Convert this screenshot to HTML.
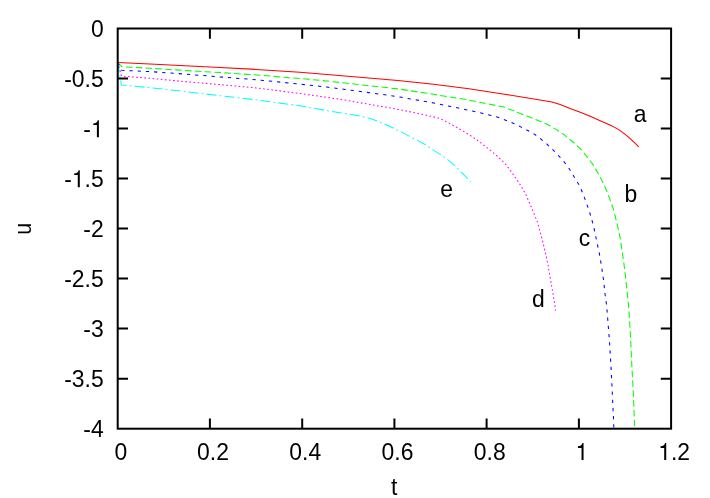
<!DOCTYPE html>
<html><head><meta charset="utf-8"><title>plot</title>
<style>
html,body{margin:0;padding:0;background:#fff;}
body{width:710px;height:498px;overflow:hidden;font-family:"Liberation Sans",sans-serif;}
svg{display:block;will-change:transform;}
text{font-family:"Liberation Sans",sans-serif;font-size:24px;fill:#000;}
</style></head><body>
<svg width="710" height="498" viewBox="0 0 710 498">
<rect x="0" y="0" width="710" height="498" fill="#fff"/>

<g fill="none" stroke-width="1.05" stroke-linejoin="round">
<polyline points="117.80,62.50 150.00,64.05 185.00,65.70 220.00,67.50 256.00,69.40 300.00,72.20 327.00,74.50 345.00,76.00 398.00,80.50 433.50,84.25 469.00,88.70 504.50,94.25 540.00,99.90 552.00,102.00 560.10,104.60 570.10,108.40 580.20,112.20 590.20,116.30 600.20,120.70 611.00,125.55 615.10,127.60 620.15,130.60 625.15,134.30 630.20,138.60 635.20,143.35 638.70,146.95" stroke="#ff0000"/>
<polyline points="117.80,62.50 121.70,66.70 150.00,68.30 185.00,70.50 220.00,72.60 256.00,74.90 306.00,79.05 327.00,81.05 345.00,83.05 398.00,88.90 433.50,94.30 466.00,99.60 504.00,107.10 540.00,121.20 547.00,124.30 555.60,129.10 564.10,134.65 568.65,138.50 573.70,142.50 581.20,149.55 587.20,157.10 593.25,164.90 598.30,173.65 602.80,182.20 605.30,187.70 608.35,195.00 613.40,209.05 617.40,225.10 620.40,239.20 622.40,253.20 624.40,267.30 626.00,281.30 627.40,294.40 628.80,308.10 629.80,324.10 630.80,342.20 631.50,358.30 632.30,374.30 633.05,388.40 633.40,395.00 634.05,412.10 634.50,426.00" stroke="#00ff00" stroke-dasharray="6.580 3.290"/>
<polyline points="117.80,62.50 121.70,70.30 150.00,71.60 185.00,74.10 220.00,76.90 256.00,79.70 303.00,84.40 327.00,87.10 345.00,89.40 393.00,95.90 400.00,97.10 433.50,102.90 465.80,109.65 473.50,111.30 482.00,113.30 490.10,115.30 498.10,117.30 505.60,120.15 513.20,123.20 520.70,126.90 528.20,130.70 534.80,134.40 541.00,139.20 547.00,144.20 553.25,150.20 558.00,155.05 563.50,161.10 568.55,167.60 572.90,174.65 576.90,181.70 579.10,184.70 583.85,196.00 589.30,211.05 593.30,225.10 596.30,239.20 599.30,253.20 601.70,267.30 603.70,281.30 605.10,294.40 606.70,306.10 607.95,322.10 609.40,340.20 610.40,356.30 611.40,374.30 612.00,386.40 612.65,401.10 613.45,417.15 613.80,427.50" stroke="#0000ff" stroke-dasharray="3.290 4.935"/>
<polyline points="117.80,62.50 121.50,76.10 150.00,78.30 185.00,81.60 220.00,84.60 256.00,87.90 300.70,93.60 327.00,97.40 345.00,100.10 373.10,105.00 399.20,109.50 426.50,115.20 438.20,118.00 442.10,119.50 445.80,121.35 449.60,123.40 456.60,127.30 463.65,131.40 470.70,135.80 477.50,140.30 484.00,145.35 490.50,150.30 496.70,155.70 502.75,161.25 505.60,164.30 508.10,167.60 510.60,170.90 513.10,174.30 515.40,177.60 517.70,180.90 519.90,184.30 522.10,187.90 524.10,191.50 526.10,195.00 532.05,209.05 537.10,221.10 541.10,235.15 545.10,251.20 548.10,265.30 550.50,279.30 552.70,292.00 554.10,300.00 555.50,310.60" stroke="#ff00ff" stroke-dasharray="1.645 2.468"/>
<polyline points="117.80,62.50 121.40,85.10 150.00,87.60 185.00,91.60 220.00,95.70 256.00,99.80 303.00,106.20 327.00,110.70 345.00,113.40 355.00,115.05 363.80,117.05 368.60,118.05 376.60,120.75 385.10,124.30 393.20,128.10 401.70,132.10 409.70,136.40 417.80,140.60 425.00,144.50 433.05,149.85 440.60,154.60 447.60,159.60 455.10,165.60 461.20,172.10 467.70,178.70 470.50,181.90" stroke="#00ffff" stroke-dasharray="9.870 3.290 1.645 3.290"/>
</g>
<g fill="none" stroke="#000" stroke-width="2.0">
<rect x="117.7" y="28.5" width="553.4" height="400.2"/>
<path d="M209.9,428.7v-10.3M209.9,28.5v10.3M302.2,428.7v-10.3M302.2,28.5v10.3M394.4,428.7v-10.3M394.4,28.5v10.3M486.6,428.7v-10.3M486.6,28.5v10.3M578.9,428.7v-10.3M578.9,28.5v10.3M117.7,78.5h10.3M671.1,78.5h-10.3M117.7,128.6h10.3M671.1,128.6h-10.3M117.7,178.6h10.3M671.1,178.6h-10.3M117.7,228.6h10.3M671.1,228.6h-10.3M117.7,278.6h10.3M671.1,278.6h-10.3M117.7,328.6h10.3M671.1,328.6h-10.3M117.7,378.7h10.3M671.1,378.7h-10.3"/>
</g>
<text transform="translate(103.70,37.10) scale(0.955,1)" text-anchor="end">0</text>
<text transform="translate(103.70,87.12) scale(0.955,1)" text-anchor="end">-0.5</text>
<g transform="translate(103.70,137.15) scale(0.955,1)"><text x="-21.34" y="0">-</text><path transform="translate(-13.34,0) scale(0.024,-0.024)" d="M259,0V505H102V568C199,575 271,612 299,709H347V0Z" fill="#000"/></g>
<g transform="translate(103.70,187.17) scale(0.955,1)"><text x="-41.35" y="0">-</text><path transform="translate(-33.36,0) scale(0.024,-0.024)" d="M259,0V505H102V568C199,575 271,612 299,709H347V0Z" fill="#000"/><text x="-20.02" y="0">.5</text></g>
<text transform="translate(103.70,237.20) scale(0.955,1)" text-anchor="end">-2</text>
<text transform="translate(103.70,287.23) scale(0.955,1)" text-anchor="end">-2.5</text>
<text transform="translate(103.70,337.25) scale(0.955,1)" text-anchor="end">-3</text>
<text transform="translate(103.70,387.28) scale(0.955,1)" text-anchor="end">-3.5</text>
<text transform="translate(103.70,437.30) scale(0.955,1)" text-anchor="end">-4</text>
<text transform="translate(120.80,460.00) scale(0.955,1)" text-anchor="middle">0</text>
<text transform="translate(213.03,460.00) scale(0.955,1)" text-anchor="middle">0.2</text>
<text transform="translate(305.27,460.00) scale(0.955,1)" text-anchor="middle">0.4</text>
<text transform="translate(397.50,460.00) scale(0.955,1)" text-anchor="middle">0.6</text>
<text transform="translate(489.73,460.00) scale(0.955,1)" text-anchor="middle">0.8</text>
<g transform="translate(581.97,460.00) scale(0.955,1)"><path transform="translate(-6.67,0) scale(0.024,-0.024)" d="M259,0V505H102V568C199,575 271,612 299,709H347V0Z" fill="#000"/></g>
<g transform="translate(674.20,460.00) scale(0.955,1)"><path transform="translate(-16.68,0) scale(0.024,-0.024)" d="M259,0V505H102V568C199,575 271,612 299,709H347V0Z" fill="#000"/><text x="-3.34" y="0">.2</text></g>
<text transform="translate(394.20,495.00) scale(0.955,1)" text-anchor="middle">t</text>
<text transform="translate(31.00,228.70) rotate(-90) scale(0.9,1)" text-anchor="middle">u</text>
<text transform="translate(633.80,121.60) scale(0.955,1)">a</text>
<text transform="translate(624.50,201.70) scale(0.955,1)">b</text>
<text transform="translate(578.80,246.40) scale(0.955,1)">c</text>
<text transform="translate(531.90,306.50) scale(0.955,1)">d</text>
<text transform="translate(440.30,197.00) scale(0.955,1)">e</text>
</svg></body></html>
